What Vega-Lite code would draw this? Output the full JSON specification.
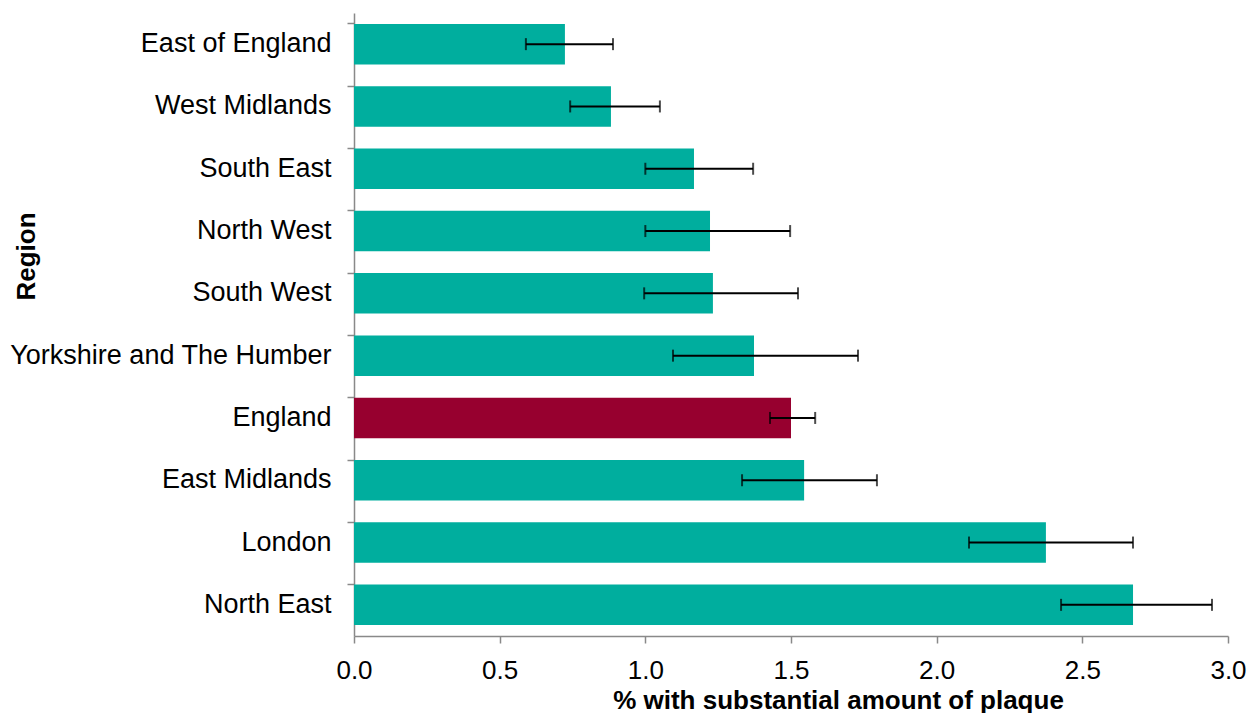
{
  "$schema": "https://vega.github.io/schema/vega-lite/v6.json",
  "width": 874,
  "height": 623,
  "autosize": {"type": "none"},
  "padding": {"left": 354, "top": 13, "right": 20, "bottom": 77},
  "background": "white",
  "config": {
    "view": {"stroke": null},
    "font": "Liberation Sans",
    "axis": {"grid": false, "domainColor": "#898989", "tickColor": "#898989", "domainWidth": 1.5, "tickWidth": 1.5, "labelFont": "Liberation Sans", "titleFont": "Liberation Sans", "labelColor": "#000000", "titleColor": "#000000"}
  },
  "data": {
    "values": [
      {"region": "East of England", "pct": 0.724, "lo": 0.59, "hi": 0.889, "grp": "Region"},
      {"region": "West Midlands", "pct": 0.882, "lo": 0.742, "hi": 1.05, "grp": "Region"},
      {"region": "South East", "pct": 1.167, "lo": 1.0, "hi": 1.37, "grp": "Region"},
      {"region": "North West", "pct": 1.222, "lo": 1.0, "hi": 1.497, "grp": "Region"},
      {"region": "South West", "pct": 1.232, "lo": 0.996, "hi": 1.524, "grp": "Region"},
      {"region": "Yorkshire and The Humber", "pct": 1.373, "lo": 1.095, "hi": 1.73, "grp": "Region"},
      {"region": "England", "pct": 1.5, "lo": 1.428, "hi": 1.583, "grp": "England"},
      {"region": "East Midlands", "pct": 1.545, "lo": 1.332, "hi": 1.795, "grp": "Region"},
      {"region": "London", "pct": 2.375, "lo": 2.111, "hi": 2.674, "grp": "Region"},
      {"region": "North East", "pct": 2.674, "lo": 2.427, "hi": 2.945, "grp": "Region"}
    ]
  },
  "encoding": {
    "y": {
      "field": "region",
      "type": "nominal",
      "sort": null,
      "scale": {"paddingInner": 0.35, "paddingOuter": 0.175},
      "axis": {
        "title": "Region",
        "titleFontSize": 26,
        "titleFontWeight": "bold",
        "titleAngle": -90,
        "titleX": -328,
        "titleY": 243,
        "titleAlign": "center",
        "titleBaseline": "middle",
        "labelFontSize": 27,
        "labelPadding": 16,
        "labelLimit": 500,
        "tickSize": 7,
        "bandPosition": 0,
        "labelBound": false
      }
    }
  },
  "layer": [
    {
      "mark": {"type": "bar"},
      "encoding": {
        "x": {
          "field": "pct",
          "type": "quantitative",
          "scale": {"domain": [0, 3], "nice": false, "zero": true},
          "axis": {
            "title": "% with substantial amount of plaque",
            "titleFontSize": 26,
            "titleFontWeight": "bold",
            "titleX": 484,
            "titleAlign": "center",
            "titlePadding": 4,
            "values": [0, 0.5, 1, 1.5, 2, 2.5, 3],
            "format": ".1f",
            "labelFontSize": 26,
            "labelPadding": 14,
            "tickSize": 7,
            "labelFlush": false,
            "labelOverlap": false
          }
        },
        "color": {
          "field": "grp",
          "type": "nominal",
          "scale": {"domain": ["Region", "England"], "range": ["#00AE9E", "#97002F"]},
          "legend": null
        }
      }
    },
    {
      "mark": {"type": "rule", "color": "#000000", "strokeWidth": 2},
      "encoding": {
        "x": {"field": "lo", "type": "quantitative"},
        "x2": {"field": "hi"}
      }
    },
    {
      "mark": {"type": "tick", "color": "#000000", "thickness": 2, "size": 12},
      "encoding": {
        "x": {"field": "lo", "type": "quantitative"}
      }
    },
    {
      "mark": {"type": "tick", "color": "#000000", "thickness": 2, "size": 12},
      "encoding": {
        "x": {"field": "hi", "type": "quantitative"}
      }
    }
  ]
}
